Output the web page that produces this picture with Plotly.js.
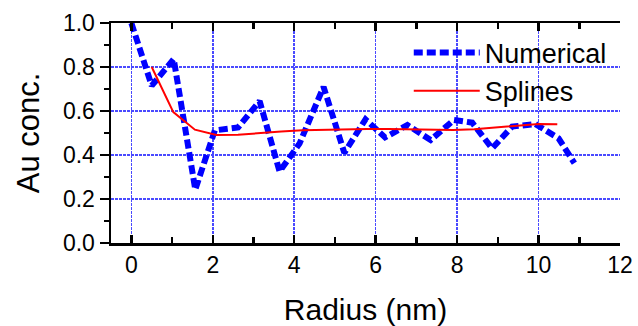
<!DOCTYPE html>
<html>
<head>
<meta charset="utf-8">
<script src="https://cdn.plot.ly/plotly-3.0.1.min.js"></script>
<style>html,body{margin:0;padding:0;background:#fff;}#chart{width:638px;height:326px;}</style>
</head>
<body>
<div id="chart"></div>
<script>
// Numerical solution
const numRadius = [0, 0.5, 1.04, 1.57, 2.05, 2.62, 3.15, 3.64, 4.13, 4.72, 5.23, 5.75, 6.23, 6.78, 7.35, 7.92, 8.37, 8.86, 9.35, 9.92, 10.49, 10.88];
const numConc   = [1.0, 0.715, 0.836, 0.243, 0.512, 0.525, 0.645, 0.325, 0.452, 0.71, 0.41, 0.562, 0.48, 0.536, 0.468, 0.559, 0.547, 0.43, 0.529, 0.541, 0.476, 0.363];
// Splines fit
const splRadius = [0.5, 1.03, 1.56, 2.09, 2.62, 3.15, 3.68, 4.2, 4.73, 5.26, 5.79, 6.31, 6.84, 7.37, 7.9, 8.42, 8.95, 9.48, 10.0, 10.46];
const splConc   = [0.80, 0.595, 0.515, 0.491, 0.492, 0.500, 0.507, 0.512, 0.515, 0.517, 0.518, 0.518, 0.517, 0.515, 0.514, 0.517, 0.525, 0.535, 0.541, 0.540];
const seriesNames = ["Numerical", "Splines"];
const xTitle = "Radius (nm)";
const yTitle = "Au conc.";

const FONT = "Liberation Sans, Arial, sans-serif";
const data = [
  {x: numRadius, y: numConc, name: seriesNames[0], mode: "lines", type: "scatter",
   line: {color: "#0000ff", width: 6, dash: "9px,4px"}},
  {x: splRadius, y: splConc, name: seriesNames[1], mode: "lines", type: "scatter",
   line: {color: "#ff0000", width: 2}}
];
const grid = {showgrid: true, gridcolor: "#4a4aff", gridwidth: 1.5, griddash: "3px,1px"};
const layout = {
  width: 638, height: 326,
  margin: {l: 111, r: 18, t: 23, b: 83},
  paper_bgcolor: "#fff", plot_bgcolor: "#fff",
  font: {family: FONT, color: "#000"},
  showlegend: true,
  legend: {x: 0.585, y: 0.975, xanchor: "left", yanchor: "top", bgcolor: "rgba(0,0,0,0)",
           font: {size: 27, family: FONT}, itemwidth: 66, tracegroupgap: 0},
  xaxis: Object.assign({
    range: [-0.5, 12], dtick: 2, tick0: 0, zeroline: false,
    showline: true, linecolor: "#000", linewidth: 2.5, mirror: "ticks",
    ticks: "inside", ticklen: 8, tickwidth: 2.5, tickcolor: "#000",
    minor: {dtick: 1, ticks: "inside", ticklen: 6, tickwidth: 2.5, tickcolor: "#000", showgrid: false},
    tickfont: {size: 23, family: FONT},
    title: {text: xTitle, font: {size: 30, family: FONT}, standoff: 26}
  }, grid),
  yaxis: Object.assign({
    range: [0, 1], dtick: 0.2, tick0: 0, tickformat: ".1f", zeroline: false,
    showline: true, linecolor: "#000", linewidth: 2.5, mirror: false,
    ticks: "outside", ticklen: 9, tickwidth: 2.5, tickcolor: "#000",
    minor: {dtick: 0.1, ticks: "outside", ticklen: 5, tickwidth: 2.5, tickcolor: "#000", showgrid: false},
    tickfont: {size: 23, family: FONT},
    title: {text: yTitle, font: {size: 31, family: FONT}, standoff: 14}
  }, grid),
  yaxis2: {
    overlaying: "y", side: "right", range: [0, 1], dtick: 0.2, showgrid: false, zeroline: false,
    showline: true, linecolor: "#000", linewidth: 2.5,
    ticks: "inside", ticklen: 8, tickwidth: 2.5, tickcolor: "#000", showticklabels: false,
    minor: {dtick: 0.1, ticks: "inside", ticklen: 6, tickwidth: 2.5, tickcolor: "#000", showgrid: false}
  }
};
Plotly.newPlot("chart", data, layout, {staticPlot: true, displayModeBar: false});
</script>
</body>
</html>
